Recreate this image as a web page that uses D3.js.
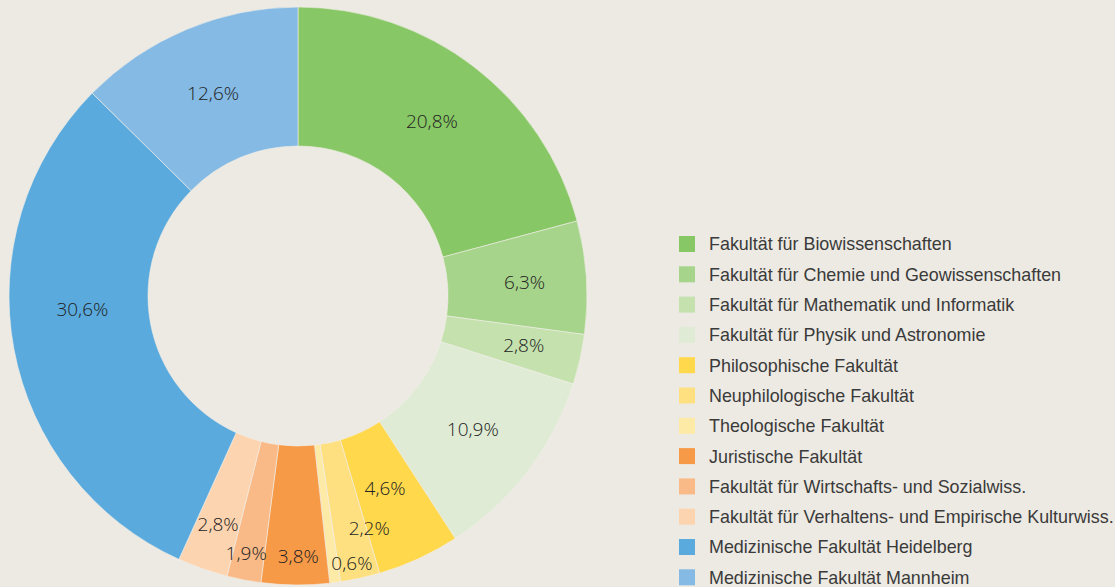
<!DOCTYPE html>
<meta charset="utf-8">
<style>
  body { margin: 0; background: #edeae3; }
  svg { display: block; }
  .pct { font-family: "Open Sans", sans-serif; font-weight: 300; font-size: 19px; fill: #222; }
  .legend text { font-family: "Liberation Sans", Arial, sans-serif; font-size: 17.9px; fill: #3a3a3a; }
</style>
<body>
<svg width="1115" height="587"></svg>
<script src="https://cdn.jsdelivr.net/npm/d3@7"></script>
<script>
  const faculties = [
    "Fakultät für Biowissenschaften",
    "Fakultät für Chemie und Geowissenschaften",
    "Fakultät für Mathematik und Informatik",
    "Fakultät für Physik und Astronomie",
    "Philosophische Fakultät",
    "Neuphilologische Fakultät",
    "Theologische Fakultät",
    "Juristische Fakultät",
    "Fakultät für Wirtschafts- und Sozialwiss.",
    "Fakultät für Verhaltens- und Empirische Kulturwiss.",
    "Medizinische Fakultät Heidelberg",
    "Medizinische Fakultät Mannheim"
  ];
  const shares = [20.8, 6.3, 2.8, 10.9, 4.6, 2.2, 0.6, 3.8, 1.9, 2.8, 30.6, 12.6];
  const colors = ["#88c765", "#a6d48b", "#c4e1ae", "#dfebd4", "#ffd84c", "#fee081",
                  "#feeaa7", "#f79a48", "#f9ba87", "#fdd4b0", "#5aaadd", "#84bae4"];

  const svg = d3.select("svg");
  const cx = 298, cy = 296;
  const outer = 289, inner = 150;

  const pie = d3.pie().sort(null).value(d => d);
  const arc = d3.arc().innerRadius(inner).outerRadius(outer);
  const arcs = pie(shares);

  const g = svg.append("g").attr("transform", `translate(${cx},${cy})`);

  g.selectAll("path")
    .data(arcs)
    .enter().append("path")
      .attr("d", arc)
      .attr("fill", (d, i) => colors[i])
      .attr("stroke", "#f1eee8")
      .attr("stroke-width", 0.6);

  // label placement tweaks: [angle shift in degrees, radius], by slice index
  const labelTweak = {
    1: [0.3, 227], 2: [-0.4, 231], 4: [0.3, 211], 5: [-4.6, 243], 6: [-4, 273],
    7: [-0.6, 260], 8: [0.6, 262], 9: [0, 242], 10: [7.1, 216]
  };

  g.selectAll(".pct")
    .data(arcs)
    .enter().append("text")
      .attr("class", "pct")
      .attr("text-anchor", "middle")
      .attr("dy", "0.36em")
      .attr("transform", (d, i) => {
        const t = labelTweak[i] || [0, 220];
        const a = (d.startAngle + d.endAngle) / 2 + t[0] * Math.PI / 180;
        const r = t[1];
        return `translate(${r * Math.sin(a)},${-r * Math.cos(a)})`;
      })
      .text(d => d3.format(".1f")(d.data).replace(".", ",") + "%");

  const legend = svg.append("g")
      .attr("class", "legend")
      .attr("transform", "translate(679,236)");

  const row = legend.selectAll("g")
    .data(faculties)
    .enter().append("g")
      .attr("transform", (d, i) => `translate(0,${i * 30.3})`);

  row.append("rect")
      .attr("width", 16)
      .attr("height", 16)
      .attr("fill", (d, i) => colors[i]);

  row.append("text")
      .attr("x", 30)
      .attr("y", 8)
      .attr("dy", "0.36em")
      .text(d => d);
</script>
</body>
